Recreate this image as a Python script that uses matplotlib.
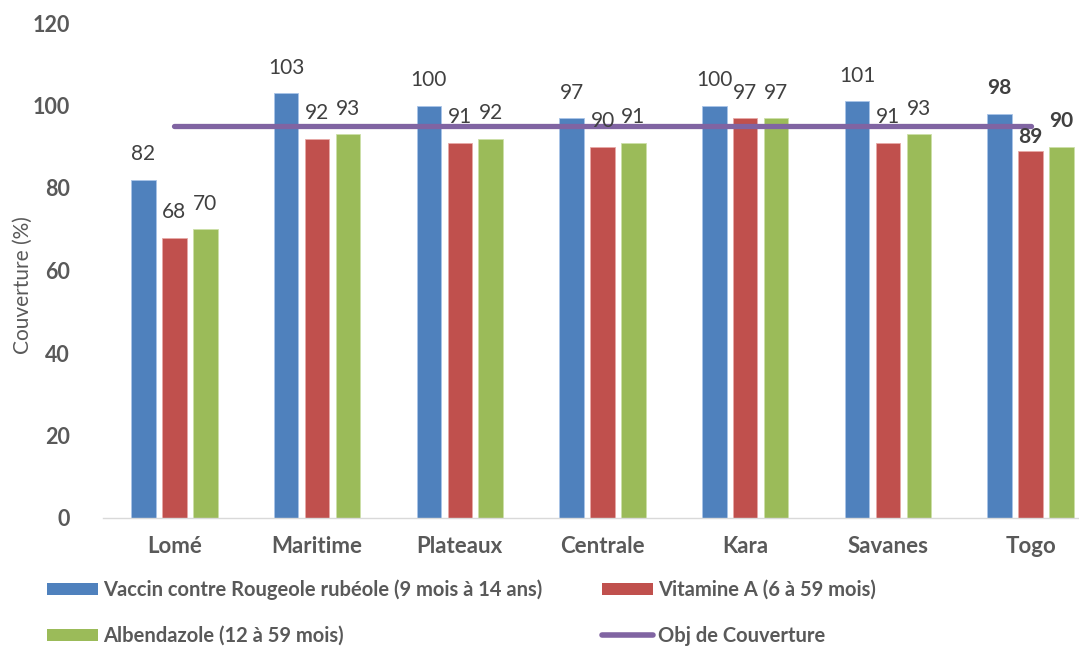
import matplotlib
matplotlib.use("Agg")
import matplotlib.pyplot as plt
import numpy as np
from matplotlib.patches import Patch
from matplotlib.lines import Line2D

categories = ["Lomé", "Maritime", "Plateaux", "Centrale", "Kara", "Savanes", "Togo"]
vaccin = [82, 103, 100, 97, 100, 101, 98]
vitamine = [68, 92, 91, 90, 97, 91, 89]
albendazole = [70, 93, 92, 91, 97, 93, 90]
objectif = [95, 95, 95, 95, 95, 95, 95]

series_names = ["Vaccin contre Rougeole rubéole (9 mois à 14 ans)",
                "Vitamine A (6 à 59 mois)",
                "Albendazole (12 à 59 mois)",
                "Obj de Couverture"]
colors = ["#4F81BD", "#C0504D", "#9BBB59", "#8064A2"]
edge_colors = ["#A9C4E8", "#E8A9A7", "#CDE0A8"]

plt.rcParams['font.family'] = ['Lato', 'DejaVu Sans']

W, H = 1079, 646
fig = plt.figure(figsize=(W / 100, H / 100), dpi=100)
ax = fig.add_axes([103 / W, 128 / H, 999 / W, 495 / H])

x = np.arange(len(categories))
bw = 0.172
step = 0.217
data = [vaccin, vitamine, albendazole]
for i, vals in enumerate(data):
    pos = x + (i - 1) * step
    ax.bar(pos, vals, width=bw, color=colors[i], edgecolor=edge_colors[i],
           linewidth=0.6, zorder=2)
    for j, (p, v) in enumerate(zip(pos, vals)):
        bold = categories[j] == "Togo"
        off = 11
        if bold and i == 1:
            off = 3
        ax.annotate(f"{v:.0f}", (p, v), xytext=(0, off), textcoords="offset points",
                    ha="center", va="bottom", fontsize=15, color="#404040",
                    fontweight="bold" if bold else "normal", zorder=4)

ax.plot(x, objectif, color=colors[3], linewidth=3.8, solid_capstyle="round", zorder=3)

ax.set_xlim(-0.5, len(categories) - 0.5)
ax.set_ylim(0, 120)
ax.set_yticks(np.arange(0, 121, 20))
ax.set_xticks(x)
ax.set_xticklabels(categories, fontsize=16, fontweight="bold", color="#595959")
for lab in ax.get_yticklabels():
    lab.set_fontweight("bold")
    lab.set_fontsize(15.5)
    lab.set_color("#595959")
ax.tick_params(axis="y", length=0, pad=24)
ax.tick_params(axis="x", length=0, pad=13)
for s in ["top", "right", "left"]:
    ax.spines[s].set_visible(False)
ax.spines["bottom"].set_color("#D9D9D9")
ax.spines["bottom"].set_linewidth(1.0)

ax.set_ylabel("Couverture (%)", fontsize=15, color="#595959")
ax.yaxis.set_label_coords(-70 / 999, 0.47)

handles = [Patch(facecolor=colors[0]), Patch(facecolor=colors[1]),
           Patch(facecolor=colors[2]),
           Line2D([0], [0], color=colors[3], linewidth=4, solid_capstyle="round")]
leg_pos = [(47, 590), (602, 590), (47, 636), (602, 636)]
for k in range(4):
    lx, ly = leg_pos[k]
    leg = fig.legend([handles[k]], [series_names[k]], loc="center left",
                     bbox_to_anchor=(lx / W, 1 - ly / H), frameon=False,
                     prop={"family": "Lato", "weight": "bold", "size": 14.5},
                     handlelength=2.55, handleheight=0.55, handletextpad=0.22,
                     borderpad=0, borderaxespad=0)
    for t in leg.get_texts():
        t.set_color("#595959")

fig.savefig("out.png", dpi=100)
